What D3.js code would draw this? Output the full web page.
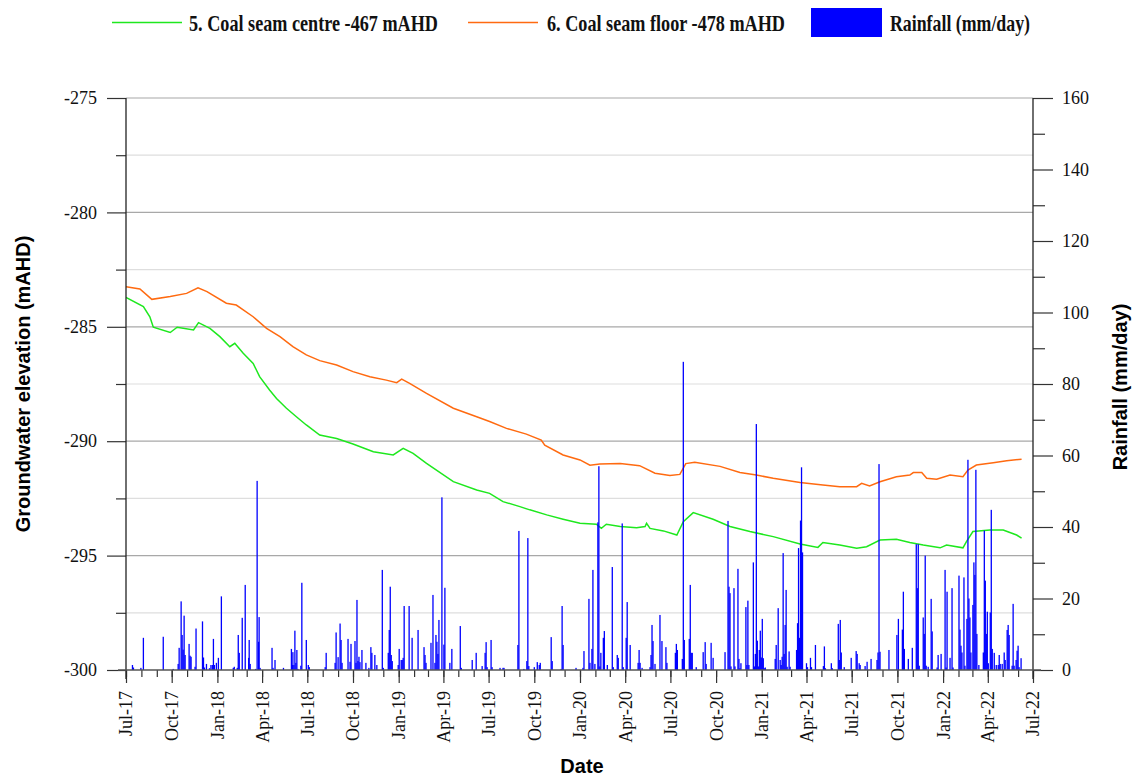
<!DOCTYPE html>
<html>
<head>
<meta charset="utf-8">
<script src="https://cdn.jsdelivr.net/npm/d3@7"></script>
<style>
  body { margin: 0; background: #fff; }
  svg { display: block; }
</style>
</head>
<body>
<svg id="chart" width="1135" height="776"></svg>
<script>
// ---- series labels ----
const seriesNames = ["5. Coal seam centre -467 mAHD", "6. Coal seam floor -478 mAHD", "Rainfall (mm/day)"];

// ---- groundwater elevation, coal seam centre (mAHD) ----
const seamCentre = [
  ["2017-07-01",-283.72],["2017-08-05",-284.12],["2017-08-18",-284.56],["2017-08-25",-285.02],
  ["2017-09-28",-285.25],["2017-10-12",-285.02],["2017-11-14",-285.14],["2017-11-24",-284.82],
  ["2017-12-17",-285.07],["2018-01-06",-285.43],["2018-01-26",-285.87],["2018-02-05",-285.72],
  ["2018-02-22",-286.16],["2018-03-14",-286.60],["2018-03-27",-287.18],["2018-04-16",-287.76],
  ["2018-04-30",-288.13],["2018-05-20",-288.56],["2018-06-09",-288.93],["2018-06-29",-289.29],
  ["2018-07-26",-289.73],["2018-08-29",-289.88],["2018-10-01",-290.12],["2018-11-11",-290.46],
  ["2018-12-21",-290.60],["2019-01-10",-290.31],["2019-01-30",-290.53],["2019-02-26",-290.97],
  ["2019-04-21",-291.77],["2019-06-07",-292.13],["2019-07-03",-292.28],["2019-07-30",-292.64],
  ["2019-09-02",-292.86],["2019-09-22",-293.00],["2019-10-26",-293.22],["2019-11-28",-293.41],
  ["2020-01-01",-293.59],["2020-02-03",-293.63],["2020-02-13",-293.81],["2020-02-23",-293.63],
  ["2020-03-22",-293.73],["2020-04-24",-293.78],["2020-05-11",-293.73],["2020-05-14",-293.59],
  ["2020-05-21",-293.81],["2020-06-17",-293.92],["2020-07-14",-294.10],["2020-07-27",-293.52],
  ["2020-08-16",-293.12],["2020-09-25",-293.41],["2020-10-29",-293.73],["2020-12-08",-293.95],
  ["2021-01-24",-294.17],["2021-03-19",-294.49],["2021-04-24",-294.64],["2021-05-04",-294.43],
  ["2021-06-07",-294.54],["2021-07-11",-294.68],["2021-07-31",-294.61],["2021-08-27",-294.32],
  ["2021-09-29",-294.29],["2021-10-26",-294.43],["2021-11-22",-294.54],["2021-12-26",-294.66],
  ["2022-01-08",-294.54],["2022-02-10",-294.66],["2022-02-17",-294.39],["2022-03-02",-293.95],
  ["2022-04-05",-293.88],["2022-05-02",-293.88],["2022-05-29",-294.10],["2022-06-08",-294.24]
];

// ---- groundwater elevation, coal seam floor (mAHD) ----
const seamFloor = [
  ["2017-07-01",-283.25],["2017-07-29",-283.35],["2017-08-22",-283.80],["2017-09-28",-283.68],
  ["2017-10-31",-283.54],["2017-11-23",-283.30],["2017-12-11",-283.46],["2018-01-19",-283.97],
  ["2018-02-08",-284.05],["2018-03-14",-284.56],["2018-04-10",-285.07],["2018-05-07",-285.43],
  ["2018-06-02",-285.87],["2018-06-29",-286.23],["2018-07-26",-286.48],["2018-08-29",-286.67],
  ["2018-10-01",-286.96],["2018-11-04",-287.18],["2018-12-07",-287.33],["2018-12-28",-287.44],
  ["2019-01-07",-287.29],["2019-01-23",-287.47],["2019-02-26",-287.91],["2019-04-21",-288.56],
  ["2019-06-07",-288.93],["2019-07-03",-289.14],["2019-08-06",-289.44],["2019-09-15",-289.69],
  ["2019-10-15",-289.95],["2019-10-22",-290.17],["2019-11-28",-290.60],["2020-01-01",-290.82],
  ["2020-01-21",-291.05],["2020-02-10",-291.00],["2020-03-22",-290.98],["2020-04-30",-291.07],
  ["2020-05-31",-291.40],["2020-06-30",-291.50],["2020-07-20",-291.45],["2020-08-01",-290.98],
  ["2020-08-19",-290.92],["2020-10-09",-291.10],["2020-11-18",-291.37],["2020-12-21",-291.48],
  ["2021-01-24",-291.62],["2021-03-19",-291.81],["2021-05-04",-291.91],["2021-06-07",-291.99],
  ["2021-07-11",-291.99],["2021-07-21",-291.84],["2021-08-06",-291.96],["2021-08-27",-291.77],
  ["2021-09-29",-291.55],["2021-10-26",-291.48],["2021-11-02",-291.37],["2021-11-19",-291.37],
  ["2021-11-29",-291.62],["2021-12-19",-291.66],["2022-01-15",-291.48],["2022-02-10",-291.55],
  ["2022-02-20",-291.26],["2022-03-09",-291.04],["2022-04-12",-290.94],["2022-05-09",-290.85],
  ["2022-06-08",-290.79]
];

// ---- daily rainfall (mm/day) ----
const rainfall = [
  ["2017-07-14",1.4],["2017-07-16",0.7],["2017-07-31",0.6],["2017-08-05",9.0],["2017-09-14",9.3],
  ["2017-10-04",0.3],["2017-10-14",1.7],["2017-10-16",6.2],["2017-10-20",19.2],["2017-10-22",9.8],
  ["2017-10-24",5.7],["2017-10-26",15.2],["2017-10-28",4.2],["2017-11-05",7.3],["2017-11-07",4.0],
  ["2017-11-09",3.7],["2017-11-17",0.9],["2017-11-19",11.6],["2017-12-02",13.6],["2017-12-04",3.5],
  ["2017-12-06",0.7],["2017-12-10",1.7],["2017-12-16",0.5],["2017-12-19",1.4],["2017-12-22",1.4],
  ["2017-12-24",8.7],["2017-12-26",1.4],["2017-12-30",2.0],["2018-01-03",3.4],["2018-01-09",20.6],
  ["2018-02-02",0.6],["2018-02-04",0.9],["2018-02-10",0.6],["2018-02-12",9.8],["2018-02-14",4.8],
  ["2018-02-20",14.6],["2018-02-26",23.8],["2018-03-05",3.4],["2018-03-06",8.4],["2018-03-08",1.7],
  ["2018-03-19",0.3],["2018-03-22",52.9],["2018-03-25",7.9],["2018-03-26",14.8],["2018-03-28",0.6],
  ["2018-04-21",6.2],["2018-04-23",0.6],["2018-04-27",2.8],["2018-05-14",0.6],["2018-05-30",5.9],
  ["2018-06-01",1.4],["2018-06-02",5.0],["2018-06-04",1.4],["2018-06-06",11.0],["2018-06-08",2.0],
  ["2018-06-10",5.6],["2018-06-12",0.3],["2018-06-18",1.2],["2018-06-20",24.4],["2018-06-29",8.4],
  ["2018-07-03",1.4],["2018-07-05",0.8],["2018-08-06",0.8],["2018-08-08",4.8],["2018-08-26",2.0],
  ["2018-08-28",10.5],["2018-09-01",3.6],["2018-09-05",13.0],["2018-09-07",8.4],["2018-09-09",2.0],
  ["2018-09-21",8.7],["2018-09-25",2.3],["2018-09-27",7.3],["2018-10-05",8.1],["2018-10-07",2.0],
  ["2018-10-09",19.6],["2018-10-11",2.5],["2018-10-13",3.7],["2018-10-15",2.2],["2018-10-19",5.6],
  ["2018-10-27",2.0],["2018-11-02",0.6],["2018-11-06",6.4],["2018-11-08",4.8],["2018-11-14",4.2],
  ["2018-11-18",1.4],["2018-11-29",28.0],["2018-12-01",0.6],["2018-12-11",4.8],["2018-12-13",11.2],
  ["2018-12-15",23.3],["2018-12-17",4.2],["2018-12-19",2.5],["2018-12-31",1.4],["2019-01-02",5.9],
  ["2019-01-06",2.8],["2019-01-08",2.8],["2019-01-10",3.4],["2019-01-12",17.9],["2019-01-22",17.9],
  ["2019-01-28",9.0],["2019-02-09",11.2],["2019-02-21",6.4],["2019-02-23",4.2],["2019-02-25",2.0],
  ["2019-03-07",7.6],["2019-03-11",21.0],["2019-03-15",2.0],["2019-03-17",9.8],["2019-03-19",7.9],
  ["2019-03-21",4.5],["2019-03-23",14.0],["2019-03-29",48.3],["2019-04-02",7.1],["2019-04-04",23.0],
  ["2019-04-14",2.0],["2019-04-18",5.9],["2019-05-05",12.3],["2019-05-07",0.6],["2019-05-29",2.8],
  ["2019-06-06",4.8],["2019-06-18",1.1],["2019-06-24",4.8],["2019-06-26",7.8],["2019-06-28",0.8],
  ["2019-07-06",8.4],["2019-07-08",0.8],["2019-07-24",0.6],["2019-07-30",0.6],["2019-08-01",0.6],
  ["2019-08-29",7.0],["2019-08-31",38.9],["2019-09-10",0.3],["2019-09-16",2.5],["2019-09-18",36.9],
  ["2019-09-20",1.1],["2019-10-01",0.8],["2019-10-07",2.2],["2019-10-11",1.4],["2019-10-13",2.0],
  ["2019-11-04",9.2],["2019-11-06",2.5],["2019-11-24",0.3],["2019-11-26",17.9],["2019-11-28",7.0],
  ["2019-12-24",0.6],["2020-01-07",0.6],["2020-01-09",5.3],["2020-01-19",19.9],["2020-01-21",2.0],
  ["2020-01-25",5.9],["2020-01-27",28.0],["2020-01-31",1.7],["2020-02-06",41.3],["2020-02-08",57.0],
  ["2020-02-10",1.0],["2020-02-12",4.8],["2020-02-17",9.0],["2020-02-19",10.9],["2020-02-25",1.4],
  ["2020-03-06",28.8],["2020-03-08",0.8],["2020-03-16",4.2],["2020-03-18",3.4],["2020-03-26",41.0],
  ["2020-03-28",0.8],["2020-04-03",9.0],["2020-04-05",19.0],["2020-04-11",7.0],["2020-04-27",2.0],
  ["2020-04-29",5.6],["2020-05-01",2.0],["2020-05-05",0.6],["2020-05-21",0.8],["2020-05-23",4.2],
  ["2020-05-25",12.6],["2020-05-27",8.1],["2020-05-31",1.7],["2020-06-10",15.4],["2020-06-14",8.1],
  ["2020-06-22",6.4],["2020-06-24",2.0],["2020-07-11",4.8],["2020-07-13",7.3],["2020-07-15",5.6],
  ["2020-07-25",3.1],["2020-07-27",86.2],["2020-07-29",8.4],["2020-08-08",8.7],["2020-08-10",23.8],
  ["2020-08-12",4.8],["2020-08-14",4.8],["2020-08-22",0.8],["2020-09-05",5.0],["2020-09-09",7.8],
  ["2020-09-11",1.7],["2020-09-21",7.6],["2020-09-25",3.4],["2020-10-19",5.0],["2020-10-25",41.7],
  ["2020-10-27",23.3],["2020-10-29",21.5],["2020-10-31",1.0],["2020-11-06",22.9],["2020-11-08",1.0],
  ["2020-11-14",28.3],["2020-11-16",3.1],["2020-11-18",0.5],["2020-11-20",1.9],["2020-11-30",17.6],
  ["2020-12-02",1.4],["2020-12-04",19.4],["2020-12-06",1.4],["2020-12-15",30.1],["2020-12-17",1.0],
  ["2020-12-19",4.5],["2020-12-21",68.8],["2020-12-23",8.2],["2020-12-25",1.0],["2020-12-27",5.6],
  ["2020-12-29",11.0],["2020-12-31",3.5],["2021-01-02",14.3],["2021-01-04",3.3],["2021-01-06",0.5],
  ["2021-01-08",0.7],["2021-01-28",3.1],["2021-01-30",7.0],["2021-02-03",17.3],["2021-02-07",2.8],
  ["2021-02-09",1.4],["2021-02-11",3.7],["2021-02-13",32.7],["2021-02-15",4.5],["2021-02-17",12.6],
  ["2021-02-19",22.4],["2021-02-21",0.9],["2021-02-25",5.2],["2021-02-27",0.9],["2021-03-12",5.6],
  ["2021-03-14",13.1],["2021-03-16",34.1],["2021-03-18",9.0],["2021-03-20",41.8],["2021-03-22",56.7],
  ["2021-03-24",32.9],["2021-04-01",1.9],["2021-04-03",0.8],["2021-04-09",3.4],["2021-04-11",0.8],
  ["2021-04-19",7.0],["2021-05-05",1.1],["2021-05-07",6.6],["2021-05-09",0.5],["2021-05-21",1.9],
  ["2021-05-23",0.5],["2021-06-04",12.9],["2021-06-06",2.8],["2021-06-08",14.0],["2021-06-10",4.9],
  ["2021-06-16",0.8],["2021-06-30",3.4],["2021-07-10",5.3],["2021-07-12",4.5],["2021-07-16",1.9],
  ["2021-07-18",1.4],["2021-07-28",1.1],["2021-08-01",2.3],["2021-08-09",3.1],["2021-08-21",2.8],
  ["2021-08-23",4.9],["2021-08-25",57.6],["2021-08-27",5.1],["2021-09-14",5.6],["2021-09-30",9.8],
  ["2021-10-03",14.3],["2021-10-11",11.3],["2021-10-13",21.9],["2021-10-15",5.9],["2021-10-23",3.1],
  ["2021-10-31",6.2],["2021-11-08",35.2],["2021-11-10",22.9],["2021-11-12",35.2],["2021-11-14",1.2],
  ["2021-11-22",14.7],["2021-11-24",10.1],["2021-11-26",32.0],["2021-11-28",1.2],["2021-12-02",0.9],
  ["2021-12-08",19.9],["2021-12-10",10.8],["2021-12-20",0.7],["2021-12-22",4.2],["2021-12-28",4.5],
  ["2022-01-05",28.0],["2022-01-07",0.7],["2022-01-09",21.9],["2022-01-15",3.4],["2022-01-19",22.9],
  ["2022-01-21",0.7],["2022-02-02",26.4],["2022-02-04",11.3],["2022-02-06",6.8],["2022-02-08",4.9],
  ["2022-02-12",25.9],["2022-02-14",1.2],["2022-02-18",14.3],["2022-02-20",58.8],["2022-02-22",20.0],
  ["2022-02-24",14.7],["2022-02-26",4.9],["2022-03-02",18.2],["2022-03-04",30.1],["2022-03-06",26.6],
  ["2022-03-08",56.0],["2022-03-10",10.1],["2022-03-14",1.4],["2022-03-23",4.9],["2022-03-25",39.0],
  ["2022-03-27",25.0],["2022-03-29",10.1],["2022-03-31",16.3],["2022-04-02",1.9],["2022-04-06",16.1],
  ["2022-04-08",44.8],["2022-04-10",5.9],["2022-04-14",4.8],["2022-04-18",1.4],["2022-04-22",1.4],
  ["2022-04-24",4.2],["2022-04-26",1.7],["2022-04-30",1.7],["2022-05-04",4.9],["2022-05-06",2.8],
  ["2022-05-10",11.2],["2022-05-12",12.6],["2022-05-14",9.8],["2022-05-20",1.2],["2022-05-22",18.5],
  ["2022-05-24",1.2],["2022-05-28",2.8],["2022-05-30",5.4],["2022-06-01",6.8],["2022-06-03",0.8],
  ["2022-06-07",3.3]
];

// ---- axis ticks ----
const levelMajorTicks = [-300, -295, -290, -285, -280, -275];
const levelMinorTicks = [-297.5, -292.5, -287.5, -282.5, -277.5];
const rainMajorTicks = [0, 20, 40, 60, 80, 100, 120, 140, 160];
const rainMinorTicks = [10, 30, 50, 70, 90, 110, 130, 150];
const dateDomain = ["2017-07-01", "2022-07-01"];

// ---- layout ----
const svg = d3.select("#chart");
const plot = { left: 126, right: 1033, top: 98, bottom: 670 };
const colors = { centre: "#1ee81e", floor: "#ff6a10", rain: "#0000ff" };
const serif = "'Liberation Serif', 'Times New Roman', serif";
const sans = "'Liberation Sans', Arial, sans-serif";

const parse = d3.utcParse("%Y-%m-%d");
const x = d3.scaleUtc().domain(dateDomain.map(parse)).range([plot.left, plot.right]);
const yLevel = d3.scaleLinear().domain([-300, -275]).range([plot.bottom, plot.top]);
const yRain = d3.scaleLinear().domain([0, 160]).range([plot.bottom, plot.top]);

// gridlines
const grid = svg.append("g");
grid.selectAll("line.minor").data(levelMinorTicks).join("line")
  .attr("x1", plot.left).attr("x2", plot.right)
  .attr("y1", d => yLevel(d)).attr("y2", d => yLevel(d))
  .attr("stroke", "#dedede").attr("stroke-width", 1.2);
grid.selectAll("line.major").data(levelMajorTicks.filter(d => d > -300)).join("line")
  .attr("x1", plot.left).attr("x2", plot.right)
  .attr("y1", d => yLevel(d)).attr("y2", d => yLevel(d))
  .attr("stroke", "#a8a8a8").attr("stroke-width", 1.2);

// clip region for the data marks
svg.append("clipPath").attr("id", "plotClip").append("rect")
  .attr("x", plot.left).attr("y", plot.top)
  .attr("width", plot.right - plot.left).attr("height", plot.bottom - plot.top);

const marks = svg.append("g").attr("clip-path", "url(#plotClip)");

const line = d3.line().x(d => x(parse(d[0]))).y(d => yLevel(d[1]));
marks.append("path").datum(seamFloor).attr("d", line)
  .attr("fill", "none").attr("stroke", colors.floor).attr("stroke-width", 1.5);
marks.append("path").datum(seamCentre).attr("d", line)
  .attr("fill", "none").attr("stroke", colors.centre).attr("stroke-width", 1.5);

// daily rainfall bars
const barW = 1.3;
marks.selectAll("rect.rain").data(rainfall).join("rect")
  .attr("x", d => x(parse(d[0])) - barW / 2)
  .attr("width", barW)
  .attr("y", d => yRain(d[1]))
  .attr("height", d => yRain(0) - yRain(d[1]))
  .attr("fill", colors.rain);

// ---- axes ----
function styleAxis(g) {
  g.select(".domain").remove();
  g.selectAll(".tick line").attr("stroke", "#333").attr("stroke-width", 1.2);
  g.selectAll(".tick text").attr("font-family", serif).attr("font-size", 18).attr("fill", "#111");
}

svg.append("g").attr("transform", `translate(${plot.left},0)`)
  .call(d3.axisLeft(yLevel).tickValues(levelMajorTicks).tickSize(19).tickPadding(10).tickFormat(d => String(d)))
  .call(styleAxis);
svg.append("g").attr("transform", `translate(${plot.left},0)`)
  .call(d3.axisLeft(yLevel).tickValues(levelMinorTicks).tickSize(10).tickFormat(""))
  .call(styleAxis);

svg.append("g").attr("transform", `translate(${plot.right},0)`)
  .call(d3.axisRight(yRain).tickValues(rainMajorTicks).tickSize(20).tickPadding(9).tickFormat(d => String(d)))
  .call(styleAxis);
svg.append("g").attr("transform", `translate(${plot.right},0)`)
  .call(d3.axisRight(yRain).tickValues(rainMinorTicks).tickSize(12).tickFormat(""))
  .call(styleAxis);

const fmt = d3.utcFormat("%b-%y");
svg.append("g").attr("transform", `translate(0,${plot.bottom})`)
  .call(d3.axisBottom(x).ticks(d3.utcMonth.every(1)).tickSize(7).tickFormat(""))
  .call(styleAxis);
const xAxis = svg.append("g").attr("transform", `translate(0,${plot.bottom})`)
  .call(d3.axisBottom(x).ticks(d3.utcMonth.every(3)).tickSize(13).tickFormat(fmt))
  .call(styleAxis);
xAxis.selectAll(".tick text")
  .attr("transform", "rotate(-90)")
  .attr("text-anchor", "end")
  .attr("x", -21).attr("y", 0).attr("dy", "0.33em");

// axis lines
svg.append("line").attr("x1", plot.left).attr("x2", plot.left).attr("y1", plot.top).attr("y2", plot.bottom + 9)
  .attr("stroke", "#222").attr("stroke-width", 1.3);
svg.append("line").attr("x1", plot.right).attr("x2", plot.right).attr("y1", plot.top).attr("y2", plot.bottom + 9)
  .attr("stroke", "#222").attr("stroke-width", 1.3);
svg.append("line").attr("x1", plot.left - 8).attr("x2", plot.right + 8).attr("y1", plot.bottom).attr("y2", plot.bottom)
  .attr("stroke", "#555").attr("stroke-width", 1.4);

// ---- axis titles ----
svg.append("text").attr("transform", `translate(30,${(plot.top + plot.bottom) / 2}) rotate(-90)`)
  .attr("text-anchor", "middle").attr("font-family", sans).attr("font-weight", "bold")
  .attr("font-size", 20).text("Groundwater elevation (mAHD)");
svg.append("text").attr("transform", `translate(1127,${(plot.top + plot.bottom) / 2 + 3}) rotate(-90)`)
  .attr("text-anchor", "middle").attr("font-family", sans).attr("font-weight", "bold")
  .attr("font-size", 20).text("Rainfall (mm/day)");
svg.append("text").attr("x", 582).attr("y", 773)
  .attr("text-anchor", "middle").attr("font-family", sans).attr("font-weight", "bold")
  .attr("font-size", 20).text("Date");

// ---- legend ----
const legend = svg.append("g");
const legendItems = [
  { type: "line", color: colors.centre, x0: 112, x1: 182, tx: 189, tw: 249, label: seriesNames[0] },
  { type: "line", color: colors.floor, x0: 468, x1: 538, tx: 547, tw: 238, label: seriesNames[1] },
  { type: "rect", color: colors.rain, x0: 811, x1: 882, tx: 890, tw: 140, label: seriesNames[2] }
];
legendItems.forEach(it => {
  if (it.type === "line") {
    legend.append("line").attr("x1", it.x0).attr("x2", it.x1).attr("y1", 22.5).attr("y2", 22.5)
      .attr("stroke", it.color).attr("stroke-width", 1.5);
  } else {
    legend.append("rect").attr("x", it.x0).attr("y", 8).attr("width", it.x1 - it.x0).attr("height", 29)
      .attr("fill", it.color);
  }
  legend.append("text").attr("x", it.tx).attr("y", 31)
    .attr("font-family", serif).attr("font-weight", "bold").attr("font-size", 24)
    .attr("textLength", it.tw).attr("lengthAdjust", "spacingAndGlyphs")
    .attr("fill", "#111").text(it.label);
});
</script>
</body>
</html>
